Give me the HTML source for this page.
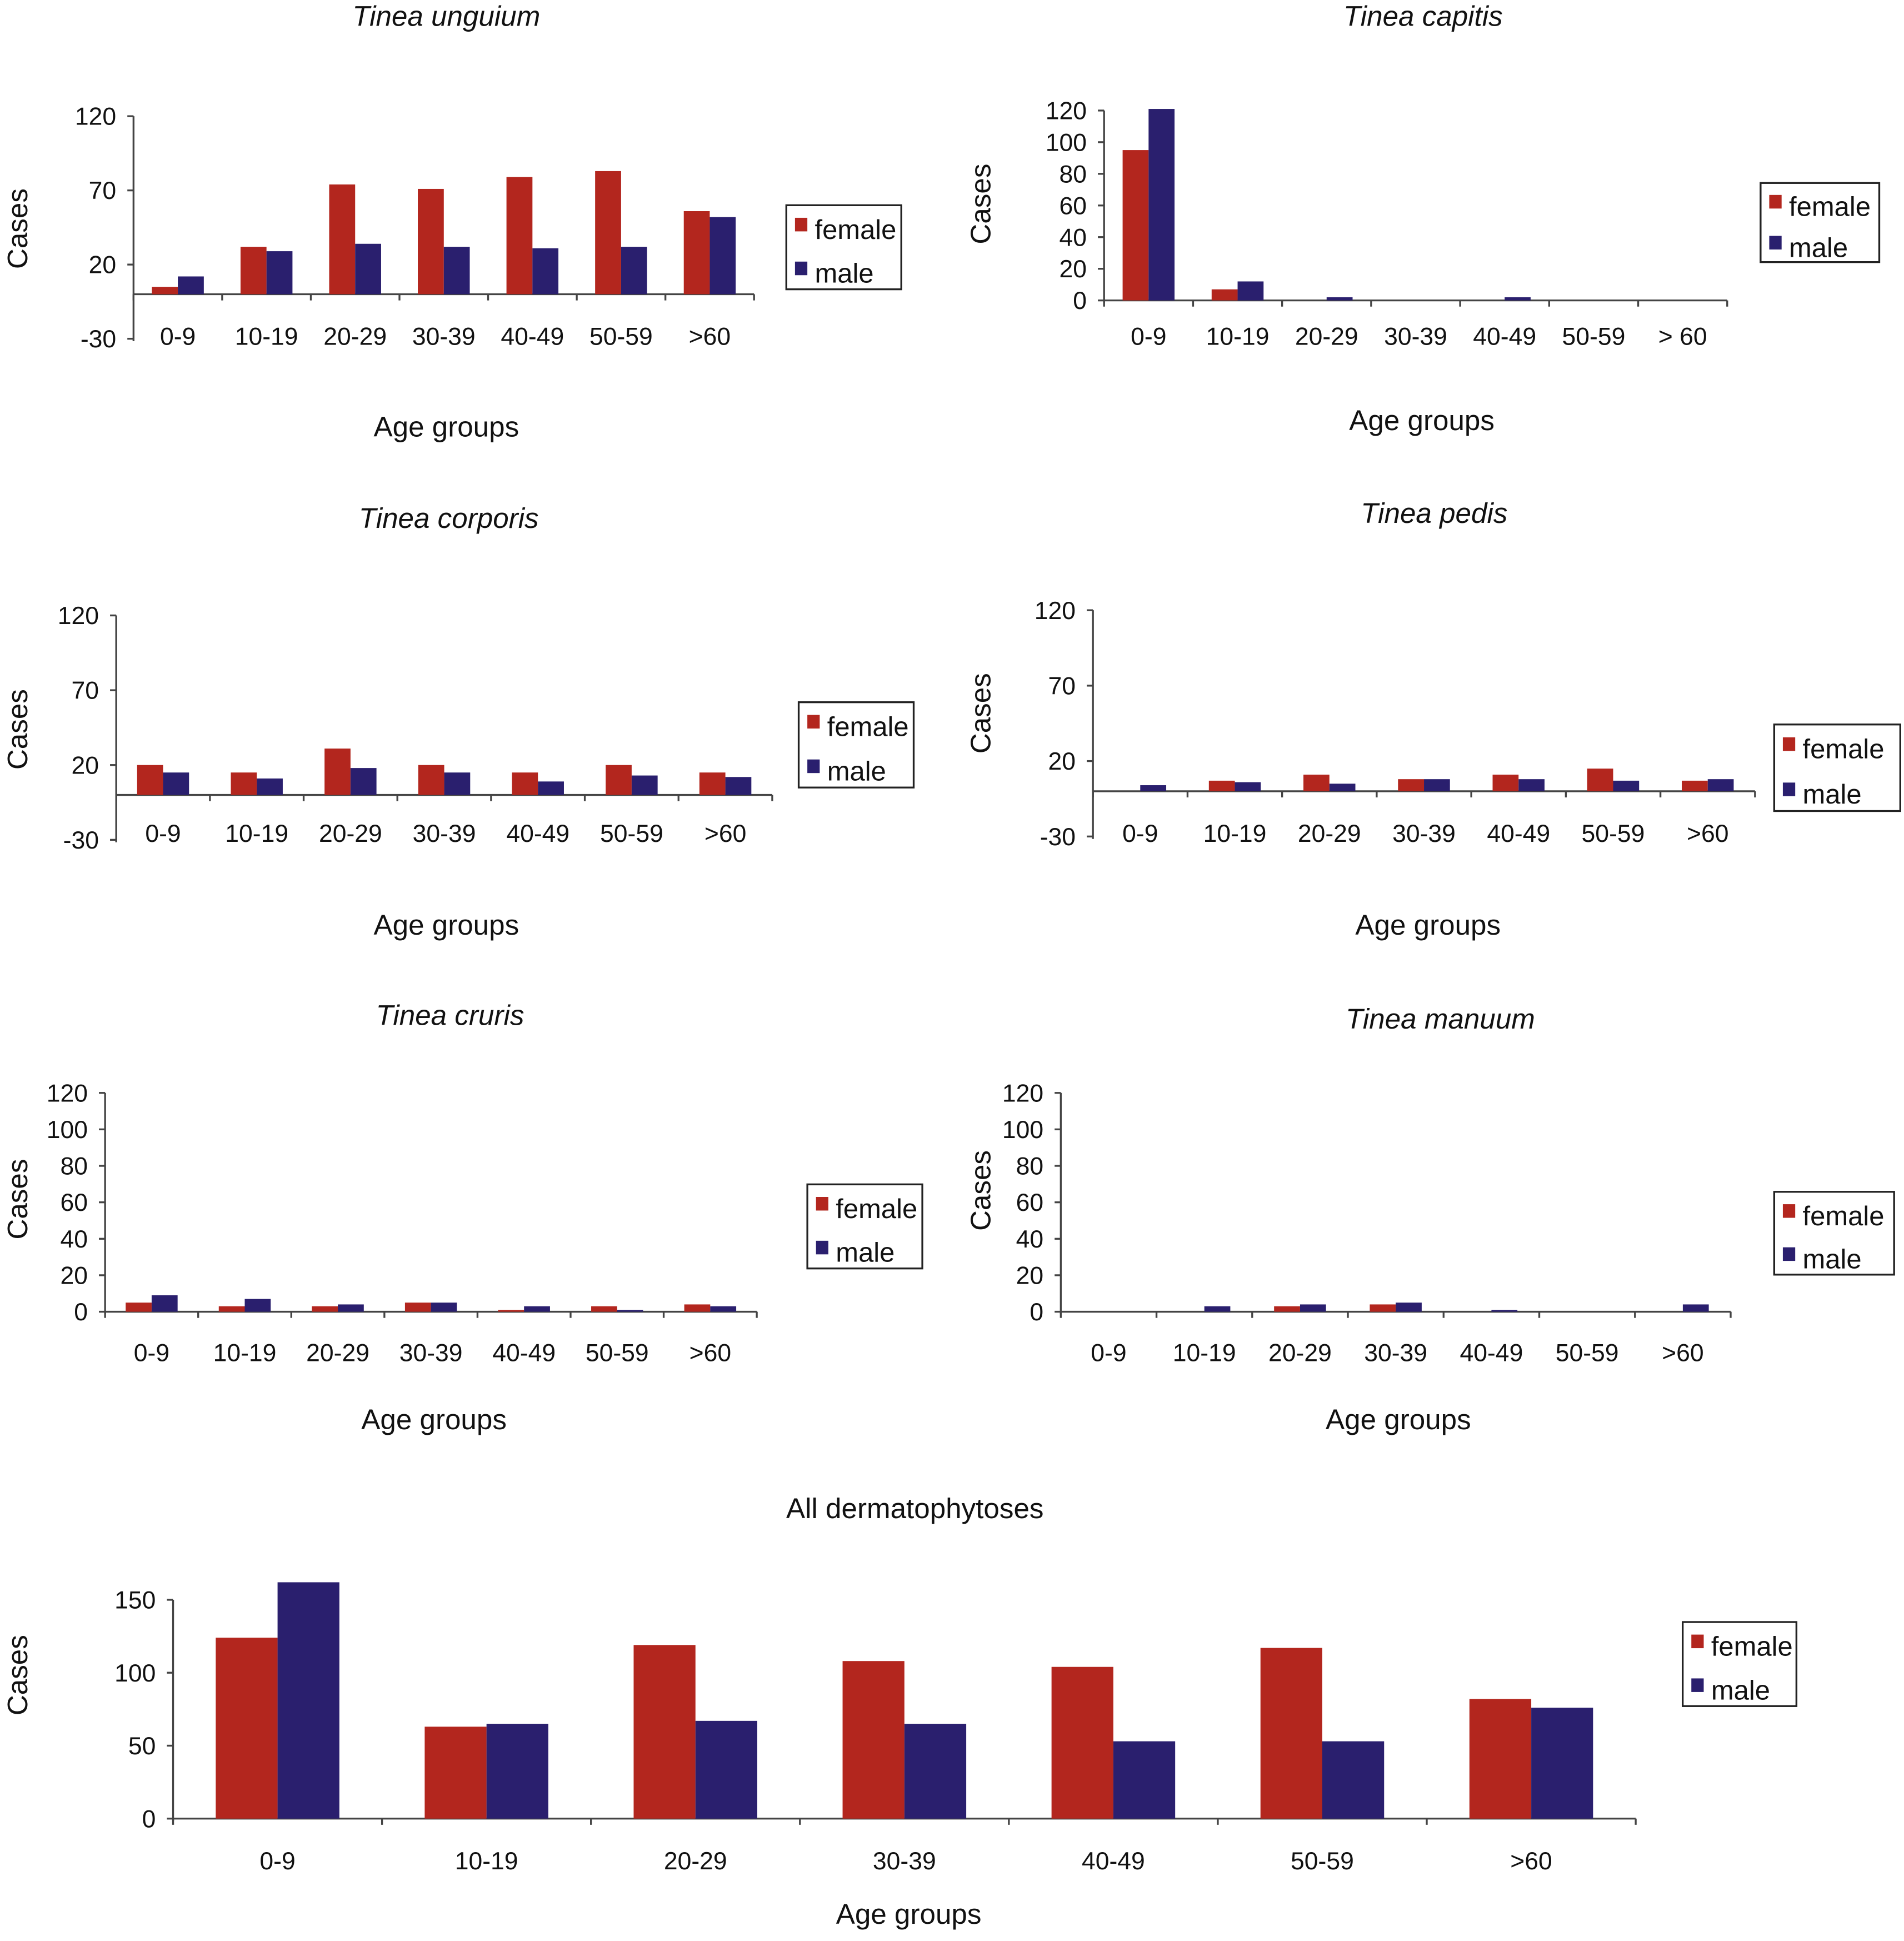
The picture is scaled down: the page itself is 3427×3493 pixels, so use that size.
<!DOCTYPE html>
<html><head><meta charset="utf-8"><style>
html,body{margin:0;padding:0;background:#fff;}
svg{display:block;}
text{font-family:"Liberation Sans",sans-serif;fill:#111;}
</style></head><body>
<svg id="fig" width="3427" height="3493" viewBox="0 0 1540 1570" preserveAspectRatio="none" xmlns="http://www.w3.org/2000/svg"></svg>
<script>
const categories = ["0-9","10-19","20-29","30-39","40-49","50-59",">60"];
const capitisCategories = ["0-9","10-19","20-29","30-39","40-49","50-59","> 60"];
const unguiumFemale = [5,32,74,71,79,83,56];
const unguiumMale = [12,29,34,32,31,32,52];
const capitisFemale = [95,7,0,0,0,0,0];
const capitisMale = [121,12,2,0,2,0,0];
const corporisFemale = [20,15,31,20,15,20,15];
const corporisMale = [15,11,18,15,9,13,12];
const pedisFemale = [0,7,11,8,11,15,7];
const pedisMale = [4,6,5,8,8,7,8];
const crurisFemale = [5,3,3,5,1,3,4];
const crurisMale = [9,7,4,5,3,1,3];
const manuumFemale = [0,0,3,4,0,0,0];
const manuumMale = [0,3,4,5,1,0,4];
const allFemale = [124,63,119,108,104,117,82];
const allMale = [162,65,67,65,53,53,76];
const ticksA = [120,70,20,-30];
const ticksB = [120,100,80,60,40,20,0];
const ticksC = [150,100,50,0];

const svg = document.getElementById('fig');
const NS = 'http://www.w3.org/2000/svg';
function mk(tag, attrs, parent){
  const e = document.createElementNS(NS, tag);
  for (const k in attrs) e.setAttribute(k, attrs[k]);
  (parent||svg).appendChild(e);
  return e;
}
function chart(c){
  const g = mk('g', {});
  
  
  const y = v => c.y0 - (v - c.v0) * c.k;
  const x = i => c.x0 + (i + 0.5) * c.cw;
  const ax = mk('line', {x1:c.x0, x2:c.x0, y1:y(c.ticks[0]), y2:y(c.ticks[c.ticks.length-1])+2, stroke:'#444','stroke-width':1.5}, g);
  
  
  c.ticks.forEach(t => {
    mk('line', {x1:c.x0-5, x2:c.x0, y1:y(t), y2:y(t), stroke:'#444','stroke-width':1.5}, g);
    const tl = mk('text', {x:c.x0-14, y:y(t)+7, 'text-anchor':'end','font-size':20}, g);
    tl.textContent = t;
    
    
  });
  const xa = mk('line', {x1:c.x0, x2:c.x0 + c.cw*c.cats.length, y1:y(0), y2:y(0), stroke:'#444','stroke-width':1.5}, g);
  
  
  for (let i = 0; i <= c.cats.length; i++) {
    mk('line', {x1:c.x0+i*c.cw, x2:c.x0+i*c.cw, y1:y(0), y2:y(0)+5, stroke:'#444','stroke-width':1.5}, g);
  }
  c.cats.forEach((cat, i) => {
    const cx = x(i);
    const fv = c.f[i], mv = c.m[i];
    if (fv > 0) {
      const r = mk('rect', {x:cx - c.bw, y:y(fv), width:c.bw, height:y(0)-y(fv), fill:'#b3261e'}, g);
      
      
    }
    if (mv > 0) {
      const r = mk('rect', {x:cx, y:y(mv), width:c.bw, height:y(0)-y(mv), fill:'#2a1f6e'}, g);
      
      
    }
    const lt = mk('text', {x:cx, y:c.labY, 'text-anchor':'middle','font-size':20}, g);
    lt.textContent = cat;
    
    
  });
  const tt = mk('text', {x:c.tx, y:c.ty, 'text-anchor':'middle','font-size':23,'font-style':c.italic?'italic':'normal'}, g);
  tt.textContent = c.title;
  
  
  const at = mk('text', {x:c.ax, y:c.ay, 'text-anchor':'middle','font-size':23}, g);
  at.textContent = 'Age groups';
  
  
  const ct = mk('text', {x:0, y:0, 'text-anchor':'middle','font-size':23, transform:`translate(${c.cx},${c.cy}) rotate(-90)`}, g);
  ct.textContent = 'Cases';
  
  
  const L = c.leg;
  const lg = mk('g', {}, g);
  
  
  mk('rect', {x:L[0], y:L[1], width:L[2]-L[0], height:L[3]-L[1], fill:'#fff', stroke:'#222','stroke-width':1.5}, lg);
  const h = (L[3]-L[1]);
  mk('rect', {x:L[0]+7, y:L[1]+h*0.12+2, width:10, height:11, fill:'#b3261e'}, lg);
  mk('rect', {x:L[0]+7, y:L[1]+h*0.70-2, width:10, height:11, fill:'#2a1f6e'}, lg);
  const lf = mk('text', {x:L[0]+23, y:L[1]+h*0.12+19, 'font-size':22}, lg);
  lf.textContent = 'female';
  
  
  const lm = mk('text', {x:L[0]+23, y:L[1]+h*0.70+15, 'font-size':22}, lg);
  lm.textContent = 'male';
  
  
}
chart({name:'chart-tinea-unguium', title:'Tinea unguium', italic:true, cats:categories, f:unguiumFemale, m:unguiumMale, ticks:ticksA,
  x0:108, cw:71.7, bw:21, y0:238, v0:0, k:1.2, labY:279, tx:361, ty:21, ax:361, ay:353, cx:22, cy:185, leg:[636,166,729,234]});
chart({name:'chart-tinea-capitis', title:'Tinea capitis', italic:true, cats:capitisCategories, f:capitisFemale, m:capitisMale, ticks:ticksB,
  x0:893, cw:72, bw:21, y0:243, v0:0, k:1.28, labY:279, tx:1151, ty:21, ax:1150, ay:348, cx:801, cy:165, leg:[1424,148,1520,212]});
chart({name:'chart-tinea-corporis', title:'Tinea corporis', italic:true, cats:categories, f:corporisFemale, m:corporisMale, ticks:ticksA,
  x0:94, cw:75.8, bw:21, y0:643, v0:0, k:1.21, labY:681, tx:363, ty:427, ax:361, ay:756, cx:22, cy:590, leg:[646,568,739,637]});
chart({name:'chart-tinea-pedis', title:'Tinea pedis', italic:true, cats:categories, f:pedisFemale, m:pedisMale, ticks:ticksA,
  x0:884, cw:76.5, bw:21, y0:640, v0:0, k:1.22, labY:681, tx:1160, ty:423, ax:1155, ay:756, cx:801, cy:577, leg:[1435,586,1537,656]});
chart({name:'chart-tinea-cruris', title:'Tinea cruris', italic:true, cats:categories, f:crurisFemale, m:crurisMale, ticks:ticksB,
  x0:85, cw:75.3, bw:21, y0:1061, v0:0, k:1.475, labY:1101, tx:364, ty:829, ax:351, ay:1156, cx:22, cy:970, leg:[653,958,746,1026]});
chart({name:'chart-tinea-manuum', title:'Tinea manuum', italic:true, cats:categories, f:manuumFemale, m:manuumMale, ticks:ticksB,
  x0:858, cw:77.4, bw:21, y0:1061, v0:0, k:1.475, labY:1101, tx:1165, ty:832, ax:1131, ay:1156, cx:801, cy:963, leg:[1435,964,1532,1031]});
chart({name:'chart-all-dermatophytoses', title:'All dermatophytoses', italic:false, cats:categories, f:allFemale, m:allMale, ticks:ticksC,
  x0:140, cw:169, bw:50, y0:1471, v0:0, k:1.18, labY:1512, tx:740, ty:1228, ax:735, ay:1556, cx:22, cy:1355, leg:[1361,1312,1453,1380]});
</script>
</body></html>
